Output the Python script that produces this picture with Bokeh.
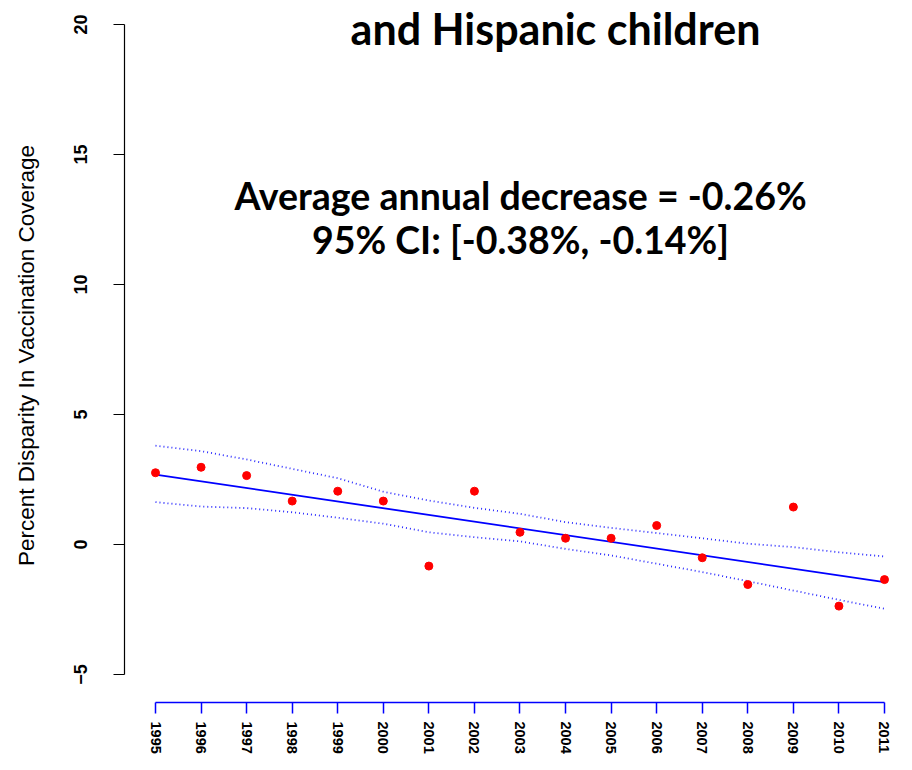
from bokeh.plotting import figure
from bokeh.models import Range1d, FixedTicker, Label
from bokeh.embed import file_html
from bokeh.resources import INLINE

# ---- data ----
years = [1995, 1996, 1997, 1998, 1999, 2000, 2001, 2002, 2003,
         2004, 2005, 2006, 2007, 2008, 2009, 2010, 2011]
disparity = [2.76, 2.97, 2.65, 1.67, 2.05, 1.67, -0.83, 2.05, 0.47,
             0.24, 0.24, 0.73, -0.51, -1.54, 1.44, -2.37, -1.35]
ci_upper = [3.80, 3.59, 3.27, 2.91, 2.55, 2.03, 1.69, 1.41, 1.18,
            0.86, 0.64, 0.44, 0.24, 0.03, -0.10, -0.30, -0.46]
ci_lower = [1.63, 1.46, 1.40, 1.24, 1.03, 0.80, 0.47, 0.28, 0.12,
            -0.17, -0.42, -0.74, -1.06, -1.41, -1.77, -2.13, -2.47]
fit_years = [1995, 2011]
fit_values = [2.69, -1.45]
y_ticks = [-5, 0, 5, 10, 15, 20]

title_text = "and Hispanic children"
stat_line1 = "Average annual decrease = -0.26%"
stat_line2 = "95% CI: [-0.38%, -0.14%]"
y_label = "Percent Disparity In Vaccination Coverage"

p = figure(frame_width=772, frame_height=694,
           x_range=Range1d(1994.3196, 2011.2634),
           y_range=Range1d(-6.077, 20.615),
           output_backend="svg", toolbar_location=None,
           min_border_left=124, min_border_top=8,
           min_border_right=0, min_border_bottom=0)
p.xgrid.visible = False
p.ygrid.visible = False
p.outline_line_color = None
p.background_fill_color = "white"
p.border_fill_color = "white"

xa = p.xaxis[0]
xa.ticker = FixedTicker(ticks=years)
xa.bounds = (1995, 2011)
xa.axis_line_color = "blue"
xa.axis_line_width = 1.5
xa.major_tick_line_color = "blue"
xa.major_tick_line_width = 1.5
xa.major_tick_out = 11
xa.major_tick_in = 0
xa.minor_tick_out = 0
xa.minor_tick_in = 0
xa.major_label_orientation = "vertical"
xa.major_label_text_font = "Liberation Sans"
xa.major_label_text_font_style = "bold"
xa.major_label_text_font_size = "14.5px"
xa.major_label_text_color = "black"
xa.major_label_standoff = 8

ya = p.yaxis[0]
ya.ticker = FixedTicker(ticks=y_ticks)
ya.bounds = (-5, 20)
ya.axis_line_color = "black"
ya.axis_line_width = 1.2
ya.major_tick_line_color = "black"
ya.major_tick_line_width = 1.2
ya.major_tick_out = 11
ya.major_tick_in = 0
ya.minor_tick_out = 0
ya.minor_tick_in = 0
ya.major_label_orientation = "vertical"
ya.major_label_text_font = "Liberation Sans"
ya.major_label_text_font_style = "bold"
ya.major_label_text_font_size = "18px"
ya.major_label_text_color = "black"
ya.major_label_standoff = 26
ya.axis_label = y_label
ya.axis_label_text_font = "Liberation Sans"
ya.axis_label_text_font_style = "normal"
ya.axis_label_text_font_size = "22.5px"
ya.axis_label_text_color = "black"
ya.axis_label_standoff = 33

# confidence band (dotted) and fitted line
p.line(years, ci_upper, line_color="#2a2aff", line_width=1.8, line_dash="1 3")
p.line(years, ci_lower, line_color="#2a2aff", line_width=1.8, line_dash="1 3")
p.line(fit_years, fit_values, line_color="blue", line_width=1.8)
p.scatter(years, disparity, size=8, color="red")

p.add_layout(Label(x=2003.779, y=19.85, text=title_text, text_align="center",
                   text_baseline="alphabetic", text_font="Lato",
                   text_font_style="bold", text_font_size="43px",
                   text_color="black"))
p.add_layout(Label(x=2003.011, y=13.42, text=stat_line1, text_align="center",
                   text_baseline="alphabetic", text_font="Lato",
                   text_font_style="bold", text_font_size="37.5px",
                   text_color="black"))
p.add_layout(Label(x=2003.011, y=11.73, text=stat_line2, text_align="center",
                   text_baseline="alphabetic", text_font="Lato",
                   text_font_style="bold", text_font_size="37.5px",
                   text_color="black"))

open("out.html", "w").write(file_html(p, INLINE))
